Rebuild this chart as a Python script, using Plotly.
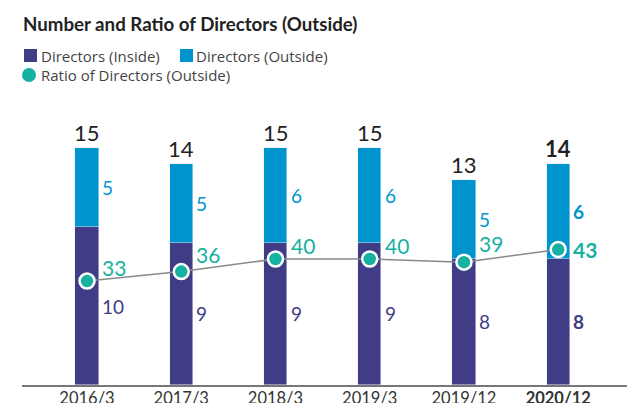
import plotly.graph_objects as go

categories = ["2016/3", "2017/3", "2018/3", "2019/3", "2019/12", "2020/12"]
inside = [10, 9, 9, 9, 8, 8]
outside = [5, 5, 6, 6, 5, 6]
totals = [15, 14, 15, 15, 13, 14]
ratio = [33, 36, 40, 40, 39, 43]
tick_labels = ["2016/3", "2017/3", "2018/3", "2019/3", "2019/12", "<b>2020/12</b>"]

# label offsets (style only)
ratio_label_shift = [14, 17, 14, 14, 19, 0]

PURPLE = "#413c86"
BLUE = "#0094cf"
TEAL = "#17b1a2"
FONT = "Lato"
LFONT = "Open Sans"

W, H = 627, 403
ML, MR, MT, MB = 22, 0, 100, 18
PW, PH = W - ML - MR, H - MT - MB

def px(x):
    return (x - ML) / PW

def py(y):
    return (H - MB - y) / PH

xs = list(range(len(categories)))

fig = go.Figure()
fig.add_trace(go.Bar(x=xs, y=inside, marker_color=PURPLE, width=0.245,
                     name="Directors (Inside)", showlegend=False))
fig.add_trace(go.Bar(x=xs, y=outside, marker_color=BLUE, width=0.245,
                     name="Directors (Outside)", showlegend=False))
fig.add_trace(go.Scatter(x=xs, y=ratio, yaxis="y2", mode="lines+markers",
                         line=dict(color="#8a8a8a", width=1.5),
                         marker=dict(size=15, color=TEAL, line=dict(color="white", width=2.5)),
                         name="Ratio of Directors (Outside)", showlegend=False))

ann = []
last = len(categories) - 1
for i in xs:
    b = (i == last)
    def t(v):
        return f"<b>{v}</b>" if b else str(v)
    ann.append(dict(x=i, y=totals[i], xref="x", yref="y", text=t(totals[i]),
                    showarrow=False, yanchor="bottom", yshift=0,
                    font=dict(family=FONT, size=22, color="#222222")))
    ann.append(dict(x=i, y=inside[i] + outside[i] / 2, xref="x", yref="y", text=t(outside[i]),
                    showarrow=False, xanchor="left", xshift=13,
                    font=dict(family=FONT, size=19, color=BLUE)))
    ann.append(dict(x=i, y=inside[i] / 2, xref="x", yref="y", text=t(inside[i]),
                    showarrow=False, xanchor="left", xshift=13,
                    font=dict(family=FONT, size=19, color=PURPLE)))
    ann.append(dict(x=i, y=ratio[i], xref="x", yref="y2", text=t(ratio[i]),
                    showarrow=False, xanchor="left", xshift=13,
                    yshift=ratio_label_shift[i],
                    font=dict(family=FONT, size=21, color=TEAL)))

# title
ann.append(dict(x=px(21), y=py(24), xref="paper", yref="paper", xanchor="left", yanchor="middle",
                text="<b>Number and Ratio of Directors (Outside)</b>", showarrow=False,
                font=dict(family=FONT, size=18.7, color="#222222")))
# legend texts
leg_font = dict(family=LFONT, size=15, color="#444444")
ann.append(dict(x=px(39), y=py(56), xref="paper", yref="paper", xanchor="left", yanchor="middle",
                text="Directors (Inside)", showarrow=False, font=leg_font))
ann.append(dict(x=px(194), y=py(56), xref="paper", yref="paper", xanchor="left", yanchor="middle",
                text="Directors (Outside)", showarrow=False, font=leg_font))
ann.append(dict(x=px(39), y=py(75), xref="paper", yref="paper", xanchor="left", yanchor="middle",
                text="Ratio of Directors (Outside)", showarrow=False, font=leg_font))

shapes = [
    dict(type="rect", xref="paper", yref="paper", x0=px(24), x1=px(37), y0=py(62), y1=py(49),
         fillcolor=PURPLE, line=dict(width=0)),
    dict(type="rect", xref="paper", yref="paper", x0=px(180), x1=px(193), y0=py(62), y1=py(49),
         fillcolor=BLUE, line=dict(width=0)),
    dict(type="circle", xref="paper", yref="paper", x0=px(22), x1=px(36), y0=py(82), y1=py(68),
         fillcolor=TEAL, line=dict(width=0)),
]

fig.update_layout(
    width=W, height=H, barmode="stack", bargap=0,
    margin=dict(l=ML, r=MR, t=MT, b=MB),
    plot_bgcolor="white", paper_bgcolor="white",
    showlegend=False,
    annotations=ann, shapes=shapes,
    xaxis=dict(range=[-0.69, 5.73], tickmode="array", tickvals=xs, ticktext=tick_labels,
               showgrid=False, zeroline=False, showline=True, linecolor="#777777", linewidth=1.5,
               ticks="", automargin=False, ticklabelstandoff=-3,
               tickfont=dict(family=FONT, size=16.5, color="#333333")),
    yaxis=dict(range=[0, PH / 15.8], visible=False, showgrid=False),
    yaxis2=dict(range=[0, PH / 3.15], overlaying="y", visible=False, showgrid=False),
)

fig.write_html("out.html", config={"displayModeBar": False},
               post_script="document.body.style.margin='0';")
